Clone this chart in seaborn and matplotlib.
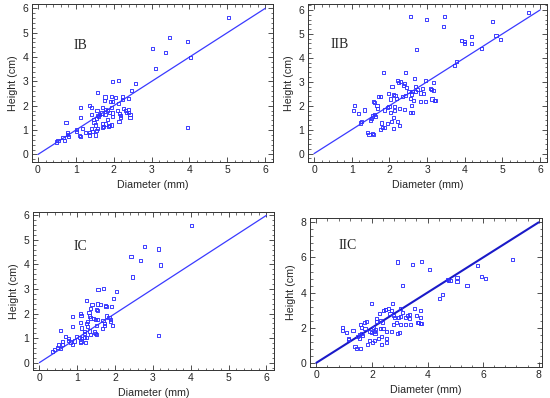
import matplotlib
matplotlib.use("Agg")
import matplotlib.pyplot as plt
import seaborn as sns
import pandas as pd
from matplotlib.ticker import MultipleLocator

# ---------------- data ----------------
ib_diameter = [5.03, 3.47, 3.95, 3.03, 3.36, 4.02, 3.10, 3.95, 2.58, 2.12, 1.96, 2.48, 1.58, 1.95,
               1.77, 2.04, 2.24, 2.39, 1.76, 2.23, 1.96, 1.92, 2.13, 1.12, 1.37, 1.42, 1.71, 1.79,
               1.56, 1.94, 1.84, 1.90, 2.09, 2.25, 2.30, 2.38, 2.38, 2.33, 2.43, 1.69, 1.62, 1.58,
               1.41, 1.77, 1.96, 2.16, 2.19, 2.17, 1.97, 1.59, 1.12, 2.43, 2.14, 1.84, 1.55, 1.46,
               1.48, 0.74, 1.79, 1.51, 1.73, 1.90, 1.93, 1.87, 1.70, 1.57, 1.54, 1.41, 1.43, 1.35,
               1.18, 1.01, 1.02, 1.25, 1.36, 1.51, 1.10, 1.12, 0.77, 0.78, 0.81, 0.66, 0.71, 0.53,
               0.48, 1.71]
ib_height = [5.63, 4.79, 4.64, 4.35, 4.19, 4.00, 3.52, 1.10, 2.91, 3.04, 2.99, 2.64, 2.54, 2.39,
             2.36, 2.34, 2.36, 2.29, 2.23, 2.25, 2.16, 2.16, 2.09, 1.92, 2.02, 1.92, 1.91, 1.85,
             1.81, 1.92, 1.81, 1.74, 1.81, 1.88, 1.81, 1.85, 1.72, 1.73, 1.65, 1.70, 1.65, 1.61,
             1.65, 1.65, 1.70, 1.68, 1.59, 1.51, 1.54, 1.54, 1.51, 1.51, 1.37, 1.43, 1.46, 1.43,
             1.30, 1.30, 1.25, 1.21, 1.15, 1.18, 1.21, 1.13, 1.10, 1.06, 0.99, 1.06, 0.93, 0.89,
             1.06, 1.02, 0.96, 0.89, 0.80, 0.80, 0.76, 0.73, 0.91, 0.81, 0.74, 0.71, 0.58, 0.59,
             0.51, 1.26]

iib_diameter = [5.69, 2.57, 3.47, 2.99, 3.43, 4.74, 4.83, 4.96, 4.18, 3.92, 3.99, 3.99, 4.18, 4.45,
                2.72, 3.78, 3.73, 1.85, 2.43, 2.66, 2.96, 2.21, 2.30, 2.24, 2.41, 3.18, 2.37, 2.70,
                2.07, 2.45, 2.87, 3.09, 3.11, 2.74, 2.60, 2.69, 3.18, 2.52, 2.82, 2.91, 2.58, 2.10,
                2.15, 1.98, 2.43, 2.35, 1.71, 1.76, 2.03, 2.18, 2.56, 3.13, 3.19, 3.23, 2.83, 2.97,
                2.65, 1.58, 1.61, 1.08, 1.67, 2.14, 1.99, 1.96, 2.59, 1.68, 2.26, 1.86, 1.05, 1.19,
                1.35, 2.02, 2.13, 2.41, 2.57, 2.62, 1.61, 1.56, 1.63, 1.52, 1.49, 1.25, 1.24, 2.12,
                2.06, 2.21, 1.79, 1.96, 2.27, 1.82, 1.87, 2.11, 1.77, 1.43, 1.46, 1.56, 1.57]
iib_height = [5.89, 5.72, 5.72, 5.60, 5.32, 5.53, 4.93, 4.78, 4.88, 4.74, 4.67, 4.61, 4.61, 4.38,
              4.36, 3.85, 3.68, 3.38, 3.38, 3.13, 3.07, 3.07, 3.03, 2.96, 2.94, 2.96, 2.83, 2.82,
              2.81, 2.76, 2.72, 2.72, 2.67, 2.67, 2.61, 2.61, 2.63, 2.60, 2.53, 2.51, 2.49, 2.46,
              2.43, 2.50, 2.44, 2.39, 2.38, 2.39, 2.28, 2.31, 2.29, 2.28, 2.22, 2.22, 2.18, 2.18,
              2.22, 2.17, 2.15, 2.00, 2.00, 1.97, 1.97, 1.94, 2.00, 1.90, 1.88, 1.82, 1.81, 1.69,
              1.82, 1.72, 1.79, 1.83, 1.71, 1.71, 1.64, 1.57, 1.56, 1.47, 1.38, 1.33, 1.28, 1.51,
              1.35, 1.33, 1.28, 1.25, 1.17, 1.10, 1.10, 1.06, 1.00, 0.89, 0.81, 0.83, 0.79]

ic_diameter = [4.03, 2.77, 3.14, 2.42, 2.68, 3.20, 2.46, 3.16, 2.04, 1.55, 1.69, 1.96, 1.24, 0.55,
               0.88, 0.88, 1.09, 1.10, 1.39, 1.54, 1.62, 1.75, 1.76, 1.90, 1.51, 1.53, 1.35, 1.33,
               1.35, 1.43, 1.49, 1.54, 1.68, 1.78, 1.84, 1.89, 1.87, 1.93, 1.71, 1.73, 1.66, 1.51,
               1.26, 1.24, 1.26, 1.12, 1.08, 1.32, 1.18, 1.18, 1.35, 1.49, 1.45, 1.52, 1.20, 1.24,
               1.05, 0.99, 0.92, 1.10, 1.11, 1.21, 1.08, 0.77, 0.78, 0.81, 0.69, 0.88, 0.60, 0.61,
               0.51, 0.48, 0.39, 0.35, 0.55, 1.31]
ic_height = [5.59, 4.75, 4.63, 4.33, 4.15, 3.98, 3.49, 1.10, 2.89, 2.99, 3.01, 2.63, 2.54, 1.32,
             1.89, 1.49, 2.02, 1.91, 2.36, 2.39, 2.36, 2.33, 2.27, 2.28, 2.17, 2.14, 2.20, 1.90,
             1.82, 1.79, 1.74, 1.76, 1.70, 1.90, 1.83, 1.76, 1.67, 1.52, 1.60, 1.53, 1.40, 1.52,
             1.66, 1.59, 1.49, 1.41, 1.62, 1.29, 1.26, 1.18, 1.15, 1.19, 1.25, 1.15, 1.04, 1.03,
             1.02, 1.06, 0.88, 0.88, 0.98, 0.81, 0.81, 1.00, 0.91, 0.84, 1.07, 0.73, 0.86, 0.75,
             0.72, 0.61, 0.54, 0.47, 0.58, 2.04]

iic_diameter = [7.05, 2.93, 3.80, 3.46, 4.06, 5.79, 5.93, 6.08, 5.06, 4.71, 4.76, 4.81, 5.06, 5.42,
                3.10, 4.53, 4.43, 1.97, 2.74, 3.04, 3.53, 2.48, 0.94, 0.94, 1.09, 1.15, 1.17, 1.32,
                1.39, 1.45, 1.48, 1.54, 1.59, 1.61, 1.60, 1.55, 1.63, 1.67, 1.72, 1.79, 1.75, 1.83,
                1.91, 1.93, 1.97, 2.01, 2.05, 2.10, 2.11, 2.14, 2.15, 2.17, 2.08, 2.23, 2.27, 2.31,
                2.32, 2.33, 2.35, 2.39, 2.40, 2.43, 2.49, 2.51, 2.53, 2.53, 2.61, 2.65, 2.70, 2.71,
                2.77, 2.79, 2.81, 2.89, 2.91, 2.96, 2.98, 3.03, 3.04, 3.11, 3.20, 3.22, 3.28, 3.34,
                3.36, 3.39, 3.59, 3.63, 3.68, 3.74, 3.75, 3.76, 3.77]
iic_height = [5.90, 5.74, 5.78, 5.59, 5.33, 5.54, 4.93, 4.82, 4.87, 4.76, 4.70, 4.70, 4.61, 4.38,
              4.40, 3.87, 3.68, 3.39, 3.39, 3.11, 3.07, 3.05, 2.03, 1.84, 1.71, 1.40, 1.31, 1.82,
              0.93, 0.80, 1.52, 1.59, 2.18, 2.03, 0.80, 1.36, 1.69, 1.55, 2.29, 2.37, 1.93, 1.04,
              1.27, 1.80, 1.71, 1.14, 1.99, 1.78, 1.67, 1.88, 2.50, 2.35, 1.27, 1.36, 2.81, 2.43,
              1.97, 1.04, 1.52, 2.31, 1.93, 2.98, 3.05, 1.36, 1.18, 1.78, 3.07, 2.82, 1.78, 2.98,
              2.69, 2.16, 2.60, 2.31, 1.69, 2.60, 1.74, 2.20, 2.62, 2.84, 2.56, 2.18, 2.69, 2.73,
              2.54, 2.18, 2.71, 2.31, 2.27, 2.60, 2.96, 2.26, 2.22]

panel_labels = ["IB", "IIB", "IC", "IIC"]
line_small = [0, 6]
line_large = [0, 8]
ticks_small = [0, 1, 2, 3, 4, 5, 6]
ticks_large = [0, 2, 4, 6, 8]

# ---------------- style ----------------
sns.set_style("ticks")
plt.rcParams["font.family"] = ["Liberation Sans", "DejaVu Sans"]

fig = plt.figure(figsize=(5.5, 3.98), dpi=100)

panels = [
    dict(d=ib_diameter, h=ib_height, lab=panel_labels[0], line=line_small, ticks=ticks_small,
         rect=[0.058, 0.593, 0.438, 0.397], xlim=(-0.16, 6.2), ylim=(-0.31, 6.18),
         txt=(1.12, 4.49), lc="#3a3aff", lw=0.9),
    dict(d=iib_diameter, h=iib_height, lab=panel_labels[1], line=line_small, ticks=ticks_small,
         rect=[0.56, 0.593, 0.435, 0.397], xlim=(-0.16, 6.19), ylim=(-0.35, 6.25),
         txt=(0.68, 4.57), lc="#3a3aff", lw=0.9),
    dict(d=ic_diameter, h=ic_height, lab=panel_labels[2], line=line_small, ticks=ticks_small,
         rect=[0.06, 0.0704, 0.438, 0.397], xlim=(-0.17, 6.2), ylim=(-0.3, 6.14),
         txt=(1.08, 4.75), lc="#3a3aff", lw=0.9),
    dict(d=iic_diameter, h=iic_height, lab=panel_labels[3], line=line_large, ticks=ticks_large,
         rect=[0.5636, 0.0779, 0.4218, 0.374], xlim=(-0.23, 8.12), ylim=(-0.24, 8.24),
         txt=(1.13, 6.67), lc="#1a1ac8", lw=1.5),
]

for p in panels:
    ax = fig.add_axes(p["rect"])
    df = pd.DataFrame({"Diameter": p["d"], "Height": p["h"]})
    ldf = pd.DataFrame({"x": p["line"], "y": p["line"]})
    sns.lineplot(data=ldf, x="x", y="y", ax=ax, color=p["lc"], linewidth=p["lw"], zorder=2)
    sns.scatterplot(data=df, x="Diameter", y="Height", ax=ax, marker="s", s=5,
                    facecolor="none", edgecolor="#3030ff", linewidth=0.65, zorder=3)
    ax.set_xlim(*p["xlim"])
    ax.set_ylim(*p["ylim"])
    ax.set_xticks(p["ticks"])
    ax.set_yticks(p["ticks"])
    minor = 0.2 if p["ticks"] is ticks_small else 0.4
    ax.xaxis.set_minor_locator(MultipleLocator(minor))
    ax.yaxis.set_minor_locator(MultipleLocator(minor))
    ax.tick_params(which="both", direction="in", top=True, right=True, color="#333333")
    ax.tick_params(which="major", length=3.5, width=0.6, labelsize=7.5, pad=2.5)
    ax.tick_params(which="minor", length=1.8, width=0.5)
    for s in ax.spines.values():
        s.set_linewidth(0.7)
        s.set_color("#333333")
    ax.set_xlabel("Diameter (mm)", fontsize=7.7, labelpad=3)
    ax.set_ylabel("Height (cm)", fontsize=7.7, labelpad=3)
    ax.text(p["txt"][0], p["txt"][1], p["lab"], ha="center", va="center",
            fontsize=10, family=["Liberation Serif", "DejaVu Serif"])

fig.savefig("out.png", dpi=100)
